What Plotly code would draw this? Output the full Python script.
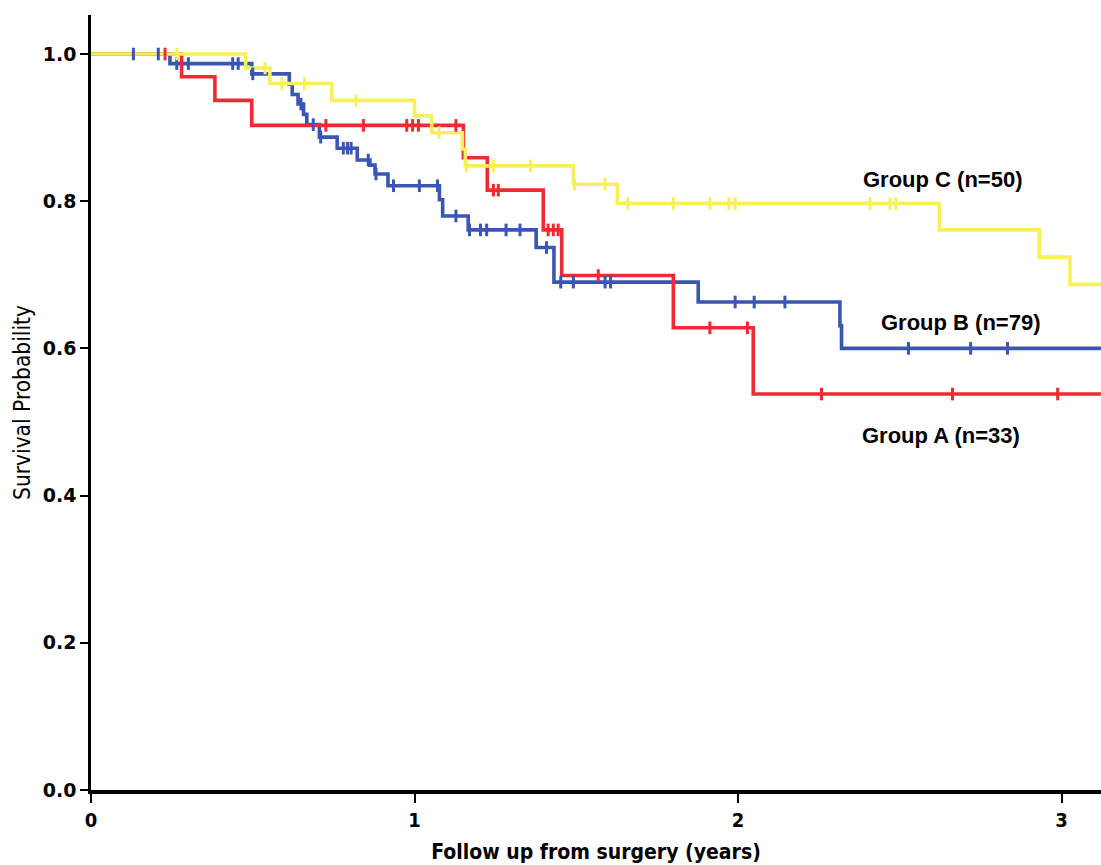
import numpy as np
import plotly.graph_objects as go

# Kaplan-Meier step estimates: event times (years) and survival after each step
times_a = [0, 0.280, 0.383, 0.497, 1.151, 1.225, 1.398, 1.455, 1.800, 2.047]
surv_a = [1.0, 0.969, 0.937, 0.903, 0.859, 0.815, 0.761, 0.699, 0.628, 0.538]
censor_a = [0.229, 0.726, 0.842, 0.976, 0.994, 1.012, 1.128, 1.244, 1.259,
            1.413, 1.429, 1.444, 1.568, 1.913, 2.029, 2.258, 2.663, 2.988]

times_b = [0, 0.244, 0.497, 0.613, 0.622, 0.640, 0.657, 0.667, 0.706, 0.761,
           0.823, 0.862, 0.878, 0.918, 1.077, 1.087, 1.166, 1.376, 1.431,
           1.877, 2.315, 2.320]
surv_b = [1.0, 0.987, 0.973, 0.959, 0.945, 0.932, 0.918, 0.904, 0.887, 0.872,
          0.856, 0.849, 0.837, 0.821, 0.802, 0.780, 0.761, 0.737, 0.690,
          0.663, 0.631, 0.600]
censor_b = [0.131, 0.208, 0.265, 0.301, 0.438, 0.455, 0.500, 0.649, 0.687,
            0.710, 0.780, 0.793, 0.804, 0.857, 0.881, 0.935, 1.015, 1.071,
            1.128, 1.170, 1.204, 1.223, 1.283, 1.326, 1.408, 1.452, 1.491,
            1.589, 1.606, 1.991, 2.050, 2.145, 2.527, 2.719, 2.833]

times_c = [0, 0.478, 0.553, 0.744, 1.000, 1.053, 1.148, 1.157, 1.491, 1.627,
           2.622, 2.931, 3.026]
surv_c = [1.0, 0.981, 0.960, 0.937, 0.916, 0.893, 0.871, 0.848, 0.823, 0.797,
          0.761, 0.724, 0.687]
censor_c = [0.266, 0.538, 0.590, 0.660, 0.820, 1.076, 1.160, 1.244, 1.359,
            1.495, 1.589, 1.659, 1.800, 1.913, 1.972, 1.991, 2.408, 2.470,
            2.488]

# longest follow-up in the cohort
max_follow_up = 3.2

group_names = ["Group A (n=33)", "Group B (n=79)", "Group C (n=50)"]
colors = ["#f02a32", "#3a55b2", "#f8ef5c"]

y_ticks = [0.0, 0.2, 0.4, 0.6, 0.8, 1.0]
y_tick_text = ["0.0", "0.2", "0.4", "0.6", "0.8", "1.0"]
x_ticks = [0, 1, 2, 3]

groups = [
    (times_a, surv_a, censor_a),
    (times_b, surv_b, censor_b),
    (times_c, surv_c, censor_c),
]


def surv_at(times, surv, t):
    idx = np.searchsorted(np.asarray(times), np.asarray(t), side="right") - 1
    return np.asarray(surv)[idx]


fig = go.Figure()

draw_order = [1, 0, 2]
for i in draw_order:
    t, s, c = groups[i]
    fig.add_trace(go.Scatter(
        x=list(t) + [max_follow_up], y=list(s) + [s[-1]],
        mode="lines", line=dict(color=colors[i], width=3.6, shape="hv"),
        name=group_names[i], showlegend=False, hoverinfo="skip",
    ))

for i in draw_order:
    t, s, c = groups[i]
    fig.add_trace(go.Scatter(
        x=c, y=surv_at(t, s, c), mode="markers",
        marker=dict(symbol="line-ns", size=9,
                    line=dict(color=colors[i], width=3)),
        showlegend=False, hoverinfo="skip",
    ))

# group labels placed beside the tail of each curve
label_pos = {
    "Group C (n=50)": (2.634, 0.830),
    "Group B (n=79)": (2.689, 0.635),
    "Group A (n=33)": (2.628, 0.482),
}
for text, (lx, ly) in label_pos.items():
    fig.add_annotation(
        x=lx, y=ly, text=text, showarrow=False, xanchor="center",
        yanchor="middle",
        font=dict(family="Liberation Sans, Arial, sans-serif", size=22,
                  color="black", weight="bold"),
    )

fig.update_layout(
    width=1101, height=865, autosize=False,
    margin=dict(l=91, r=0, t=15, b=75),
    paper_bgcolor="white", plot_bgcolor="white",
    showlegend=False,
)

condensed = "DejaVu Sans Condensed, Liberation Sans, Arial, sans-serif"

fig.update_xaxes(
    range=[0, 3.122], tickvals=x_ticks, ticktext=[str(v) for v in x_ticks],
    showline=True, linecolor="black", linewidth=3.5,
    ticks="outside", ticklen=9, tickwidth=1.5, tickcolor="black",
    showgrid=False, zeroline=False,
    tickfont=dict(family=condensed, size=20, color="black", weight="bold"),
    title=dict(text="Follow up from surgery (years)", standoff=15,
               font=dict(family=condensed, size=21, color="black",
                         weight="bold")),
)

fig.update_yaxes(
    range=[0, 1.053], tickvals=y_ticks, ticktext=y_tick_text,
    showline=True, linecolor="black", linewidth=2.5,
    ticks="outside", ticklen=8, tickwidth=1.5, tickcolor="black",
    showgrid=False, zeroline=False,
    tickfont=dict(family="DejaVu Sans, Verdana, sans-serif", size=19,
                  color="black", weight="bold"),
    title=dict(text="Survival Probability", standoff=6,
               font=dict(family=condensed, size=22.5, color="black")),
)

fig.write_html("out.html")
